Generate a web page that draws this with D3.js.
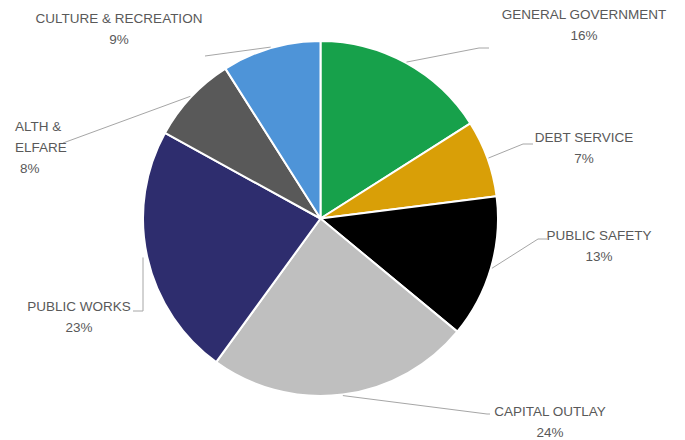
<!DOCTYPE html>
<html>
<head>
<meta charset="utf-8">
<script src="https://cdn.jsdelivr.net/npm/d3@7"></script>
<style>
  html, body { margin: 0; padding: 0; background: #fff; }
  svg { display: block; }
  text { font-family: "Liberation Sans", Arial, sans-serif; font-size: 13.5px; fill: #595959; }
</style>
</head>
<body>
<svg id="chart" width="685" height="440"></svg>
<script>
// Expenditure shares by function, clockwise from 12 o'clock
const categories = ["GENERAL GOVERNMENT", "DEBT SERVICE", "PUBLIC SAFETY", "CAPITAL OUTLAY",
                    "PUBLIC WORKS", "HEALTH & WELFARE", "CULTURE & RECREATION"];
const shares = [16, 7, 13, 24, 23, 8, 9];
// Label text as printed (the health label is cut at its left side)
const labelLines = [
  ["GENERAL GOVERNMENT", "16%"],
  ["DEBT SERVICE", "7%"],
  ["PUBLIC SAFETY", "13%"],
  ["CAPITAL OUTLAY", "24%"],
  ["PUBLIC WORKS", "23%"],
  ["ALTH &", "ELFARE", "8%"],
  ["CULTURE & RECREATION", "9%"]
];
const sliceColors = ["#17a14b", "#d99f07", "#000000", "#bfbfbf", "#2e2d6e", "#595959", "#4e94d8"];

// Label placement: text anchor point, first line centre y, elbow of the leader line
const labelLayout = [
  { x: 584, y: 14, anchor: "middle", lines: [[479, 48], [489, 48]] },
  { x: 584, y: 137, anchor: "middle", lines: [[523, 144], [533, 144]] },
  { x: 599, y: 235, anchor: "middle", lines: [[538, 239], [547, 239]] },
  { x: 550, y: 411, anchor: "middle", lines: [[487, 414], [490, 414]] },
  { x: 79, y: 306, anchor: "middle", lines: [[143, 311], [133, 311]], vertical: true },
  { x: 15, y: 126, anchor: "start", lines: [[63, 143]], xs: [15, 15, 20] },
  { x: 119, y: 18, anchor: "middle", lines: [[205, 56]], xs: [119, 119, 122] }
];

const width = 685, height = 440;
const cx = 320.5, cy = 218.5, radius = 177.5;
const lineHeight = 21;

const svg = d3.select("#chart");
const g = svg.append("g").attr("transform", `translate(${cx},${cy})`);

const data = categories.map((c, i) => ({ name: c, value: shares[i], i }));
const pie = d3.pie().value(d => d.value).sort(null);
const arcs = pie(data);
const arc = d3.arc().innerRadius(0).outerRadius(radius);

g.selectAll("path.slice")
  .data(arcs)
  .join("path")
  .attr("class", "slice")
  .attr("d", arc)
  .attr("fill", d => sliceColors[d.data.i])
  .attr("stroke", "#ffffff")
  .attr("stroke-width", 2)
  .attr("stroke-linejoin", "round");

// Leader lines start on the rim at each slice's mid angle
const rimArc = d3.arc().innerRadius(radius + 1).outerRadius(radius + 1);
arcs.forEach(a => {
  const lay = labelLayout[a.data.i];
  const mid = (a.startAngle + a.endAngle) / 2;
  let start = [cx + (radius + 1) * Math.sin(mid), cy - (radius + 1) * Math.cos(mid)];
  const pts = [start];
  if (lay.vertical) {
    // vertical drop from the rim, then a short tick toward the label
    pts[0] = [lay.lines[0][0], start[1]];
  }
  lay.lines.forEach(p => pts.push(p));
  svg.append("path")
    .attr("d", d3.line()(pts))
    .attr("fill", "none")
    .attr("stroke", "#a6a6a6")
    .attr("stroke-width", 1);
});

// Labels
arcs.forEach(a => {
  const lay = labelLayout[a.data.i];
  const lines = labelLines[a.data.i];
  const t = svg.append("text").attr("text-anchor", lay.anchor);
  lines.forEach((s, k) => {
    t.append("tspan")
      .attr("x", lay.xs ? lay.xs[k] : lay.x)
      .attr("y", lay.y + k * lineHeight)
      .attr("dy", "0.35em")
      .text(s);
  });
});
</script>
</body>
</html>
